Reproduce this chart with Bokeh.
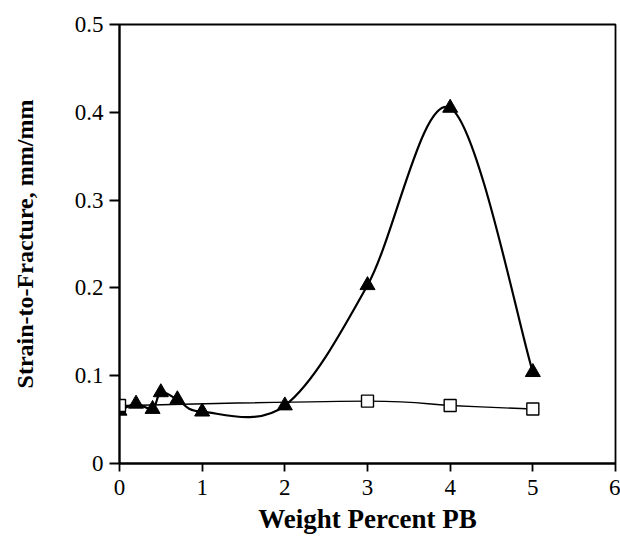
from bokeh.plotting import figure
from bokeh.embed import file_html
from bokeh.resources import INLINE
from bokeh.models import FixedTicker, Range1d

# Data
pb_tri = [0.0, 0.2, 0.4, 0.5, 0.7, 1.0, 2.0, 3.0, 4.0, 5.0]
strain_tri = [0.060, 0.068, 0.062, 0.081, 0.073, 0.059, 0.066, 0.203, 0.405, 0.104]
pb_sq = [0.0, 3.0, 4.0, 5.0]
strain_sq = [0.066, 0.071, 0.066, 0.062]
x_ticks = [0, 1, 2, 3, 4, 5, 6]
y_ticks = [0, 0.1, 0.2, 0.3, 0.4, 0.5]
y_tick_labels = ["0", "0.1", "0.2", "0.3", "0.4", "0.5"]
x_title = "Weight Percent PB"
y_title = "Strain-to-Fracture, mm/mm"

FONT = "Liberation Serif"


def catmull_bezier(xs, ys):
    """Control points of a Catmull-Rom smoothed line through the data."""
    px = [xs[0]] + list(xs) + [xs[-1]]
    py = [ys[0]] + list(ys) + [ys[-1]]
    x0, y0, x1, y1, cx0, cy0, cx1, cy1 = [], [], [], [], [], [], [], []
    for i in range(1, len(px) - 2):
        x0.append(px[i]); y0.append(py[i])
        x1.append(px[i + 1]); y1.append(py[i + 1])
        cx0.append(px[i] + (px[i + 1] - px[i - 1]) / 6.0)
        cy0.append(py[i] + (py[i + 1] - py[i - 1]) / 6.0)
        cx1.append(px[i + 1] - (px[i + 2] - px[i]) / 6.0)
        cy1.append(py[i + 1] - (py[i + 2] - py[i]) / 6.0)
    return dict(x0=x0, y0=y0, x1=x1, y1=y1, cx0=cx0, cy0=cy0, cx1=cx1, cy1=cy1)


p = figure(width=620, height=538, output_backend="svg", toolbar_location=None,
           x_range=Range1d(0, 6), y_range=Range1d(0, 0.5),
           min_border_left=119, min_border_right=5, min_border_top=24,
           min_border_bottom=75)

p.xgrid.visible = False
p.ygrid.visible = False
p.outline_line_color = "black"
p.outline_line_width = 1.8
p.background_fill_color = "white"
p.border_fill_color = "white"

# smoothed lines
bt = catmull_bezier(pb_tri, strain_tri)
p.bezier(x0="x0", y0="y0", x1="x1", y1="y1", cx0="cx0", cy0="cy0", cx1="cx1", cy1="cy1",
         source=bt, line_color="black", line_width=2.2)
bs = catmull_bezier(pb_sq, strain_sq)
p.bezier(x0="x0", y0="y0", x1="x1", y1="y1", cx0="cx0", cy0="cy0", cx1="cx1", cy1="cy1",
         source=bs, line_color="black", line_width=1.4)

p.scatter(pb_tri, strain_tri, marker="triangle", size=15, fill_color="black", line_color="black")
p.scatter(pb_sq, strain_sq, marker="square", size=12, fill_color="white", line_color="black", line_width=1.4)

for ax in (p.xaxis[0], p.yaxis[0]):
    ax.axis_line_color = "black"
    ax.axis_line_width = 2
    ax.major_tick_line_color = "black"
    ax.major_tick_line_width = 1.8
    ax.major_tick_out = 10
    ax.major_tick_in = 0
    ax.minor_tick_line_color = None
    ax.major_label_text_font = FONT
    ax.major_label_text_font_size = "23px"
    ax.major_label_text_color = "black"
    ax.axis_label_text_font = FONT
    ax.axis_label_text_font_style = "bold"
    ax.axis_label_text_color = "black"

p.xaxis.ticker = FixedTicker(ticks=x_ticks)
p.yaxis.ticker = FixedTicker(ticks=y_ticks)
p.yaxis.major_label_overrides = {t: l for t, l in zip(y_ticks, y_tick_labels)}
p.xaxis.major_tick_out = 8
p.xaxis.axis_label = x_title
p.yaxis.axis_label = y_title
p.xaxis.axis_label_text_font_size = "27px"
p.yaxis.axis_label_text_font_size = "24px"
p.yaxis.major_label_standoff = 6
p.xaxis.major_label_standoff = 8
p.yaxis.axis_label_standoff = 34
p.xaxis.axis_label_standoff = 6

open("out.html", "w").write(file_html(p, INLINE))
